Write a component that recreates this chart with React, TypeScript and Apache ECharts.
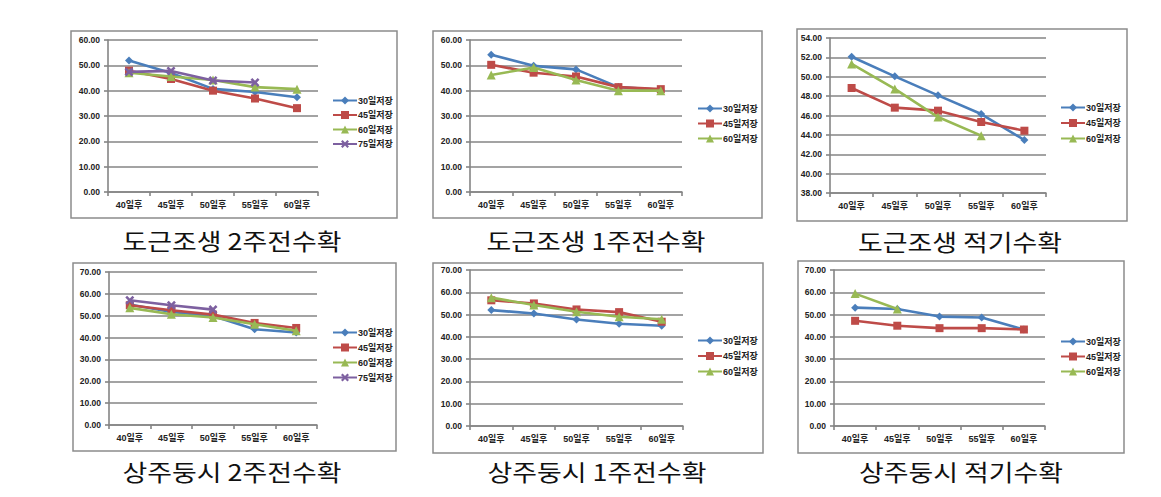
import React, { useEffect, useRef } from "react";
import * as echarts from "echarts";

const categories = ["40일후", "45일후", "50일후", "55일후", "60일후"];
const seriesNames = ["30일저장", "45일저장", "60일저장", "75일저장"];
const titles = [
  "도근조생 2주전수확",
  "도근조생 1주전수확",
  "도근조생 적기수확",
  "상주둥시 2주전수확",
  "상주둥시 1주전수확",
  "상주둥시 적기수확",
];

// Panel 1: 도근조생 2주전수확
const p1_30 = [51.9, 47.0, 40.7, 39.5, 37.4];
const p1_45 = [47.9, 44.6, 40.0, 36.9, 33.1];
const p1_60 = [47.1, 45.6, 44.2, 41.4, 40.6];
const p1_75 = [47.4, 47.8, 44.0, 43.2, null];
// Panel 2: 도근조생 1주전수확
const p2_30 = [54.2, 49.8, 48.4, 41.4, 40.3];
const p2_45 = [50.2, 47.1, 45.6, 41.4, 40.6];
const p2_60 = [46.2, 49.1, 44.2, 40.0, 40.0];
// Panel 3: 도근조생 적기수확
const p3_30 = [52.07, 50.04, 48.08, 46.15, 43.47];
const p3_45 = [48.84, 46.81, 46.5, 45.33, 44.43];
const p3_60 = [51.32, 48.74, 45.84, 43.92, null];
// Panel 4: 상주둥시 2주전수확
const p4_30 = [55.1, 51.7, 49.9, 43.8, 42.3];
const p4_45 = [54.8, 52.5, 50.5, 46.7, 44.4];
const p4_60 = [53.6, 50.7, 49.2, 46.1, 43.1];
const p4_75 = [57.1, 54.8, 52.8, null, null];
// Panel 5: 상주둥시 1주전수확
const p5_30 = [52.0, 50.5, 47.8, 45.9, 45.0];
const p5_45 = [56.4, 55.0, 52.3, 51.1, 46.8];
const p5_60 = [57.6, 54.3, 51.3, 49.0, 47.9];
// Panel 6: 상주둥시 적기수확
const p6_30 = [53.1, 52.5, 49.1, 48.7, 43.3];
const p6_45 = [47.2, 45.0, 43.9, 43.9, 43.3];
const p6_60 = [59.4, 52.5, null, null, null];

const yMin = [0, 0, 38, 0, 0, 0];
const yMax = [60, 60, 54, 70, 70, 70];
const yStep = [10, 10, 2, 10, 10, 10];

const panelData = [
  [p1_30, p1_45, p1_60, p1_75],
  [p2_30, p2_45, p2_60],
  [p3_30, p3_45, p3_60],
  [p4_30, p4_45, p4_60, p4_75],
  [p5_30, p5_45, p5_60],
  [p6_30, p6_45, p6_60],
];

// layout (pixels)
const grids = [
  { left: 108, top: 40, width: 210, height: 152 },
  { left: 470, top: 40, width: 212, height: 152 },
  { left: 830, top: 38, width: 216, height: 155 },
  { left: 109, top: 272, width: 208, height: 153 },
  { left: 470, top: 270, width: 213, height: 156 },
  { left: 834, top: 270, width: 211, height: 156 },
];
const boxes = [
  { x: 71, y: 31, w: 326, h: 187 },
  { x: 433, y: 31, w: 329, h: 187 },
  { x: 797, y: 29, w: 330, h: 192 },
  { x: 73, y: 263, w: 323, h: 188 },
  { x: 433, y: 263, w: 330, h: 190 },
  { x: 798, y: 261, w: 326, h: 192 },
];
const legendPos = [
  { left: 332, top: 96, gap: 5.5 },
  { left: 697, top: 104, gap: 6 },
  { left: 1060, top: 103, gap: 6.5 },
  { left: 332, top: 328, gap: 6 },
  { left: 697, top: 336, gap: 6.5 },
  { left: 1060, top: 337, gap: 6 },
];
const titlePos = [
  { x: 232, y: 240 },
  { x: 596, y: 240 },
  { x: 960, y: 241 },
  { x: 232, y: 471 },
  { x: 597, y: 471 },
  { x: 961, y: 471 },
];

const colors = ["#4A7EBB", "#BE4B48", "#98B954", "#7D60A0"];
const symbols = [
  "diamond",
  "rect",
  "triangle",
  "path://M2,0 L5,3 L8,0 L10,2 L7,5 L10,8 L8,10 L5,7 L2,10 L0,8 L3,5 L0,2 Z",
];
const symbolSizes = [8, 8, 9, 9];

const FONT = '"Liberation Sans", "Noto Sans CJK KR", sans-serif';
const GRID_COLOR = "#858585";

export default function App() {
  const ref = useRef<HTMLDivElement>(null);
  useEffect(() => {
    if (!ref.current) return;
    const chart = echarts.init(ref.current, undefined, { renderer: "svg" });

    const series: any[] = [];
    panelData.forEach((arrs, pi) => {
      arrs.forEach((data, si) => {
        series.push({
          type: "line",
          name: seriesNames[si],
          xAxisIndex: pi,
          yAxisIndex: pi,
          data: data,
          symbol: symbols[si],
          symbolSize: symbolSizes[si],
          showSymbol: true,
          connectNulls: false,
          lineStyle: { color: colors[si], width: 2.6 },
          itemStyle: { color: colors[si] },
          z: 3 + si,
        });
      });
    });

    const option: any = {
      animation: false,
      backgroundColor: "#ffffff",
      grid: grids.map((g) => ({ ...g, containLabel: false })),
      xAxis: grids.map((_, i) => ({
        type: "category",
        gridIndex: i,
        data: categories,
        boundaryGap: true,
        axisLine: { show: true, lineStyle: { color: GRID_COLOR, width: 1.6 } },
        axisTick: { show: true, length: 4, inside: false, alignWithLabel: false, lineStyle: { color: GRID_COLOR, width: 1.6 } },
        axisLabel: { fontSize: 9, fontWeight: "bold", color: "#222", fontFamily: FONT, margin: 8 },
        splitLine: { show: false },
      })),
      yAxis: grids.map((_, i) => ({
        type: "value",
        gridIndex: i,
        min: yMin[i],
        max: yMax[i],
        interval: yStep[i],
        axisLine: { show: true, lineStyle: { color: GRID_COLOR, width: 1.6 } },
        axisTick: { show: true, length: 4, lineStyle: { color: GRID_COLOR, width: 1.6 } },
        axisLabel: {
          fontSize: 8.5,
          fontWeight: "bold",
          color: "#222",
          fontFamily: FONT,
          margin: 8,
          formatter: (v: number) => v.toFixed(2),
        },
        splitLine: { show: true, lineStyle: { color: GRID_COLOR, width: 1.6 } },
      })),
      legend: legendPos.map((lp, i) => ({
        orient: "vertical",
        left: lp.left,
        top: lp.top,
        itemWidth: 24,
        itemHeight: 10,
        itemGap: lp.gap,
        padding: 0,
        selectedMode: false,
        data: seriesNames.slice(0, panelData[i].length),
        textStyle: { fontSize: 9, fontWeight: "bold", color: "#222", fontFamily: FONT, padding: [0, 0, 0, -4] },
      })),
      graphic: [
        ...boxes.map((b) => ({
          type: "rect",
          shape: { x: b.x, y: b.y, width: b.w, height: b.h },
          style: { fill: "none", stroke: "#8c8c8c", lineWidth: 1.5 },
          z: 0,
          silent: true,
        })),
        ...titles.map((t, i) => ({
          type: "text",
          x: titlePos[i].x,
          y: titlePos[i].y,
          scaleX: 1.17,
          style: {
            text: t,
            fontSize: 23,
            fontFamily: '"Noto Sans CJK KR", sans-serif',
            fill: "#111",
            textAlign: "center",
            textVerticalAlign: "middle",
          },
        })),
      ],
      series,
    };
    chart.setOption(option);
    return () => chart.dispose();
  }, []);

  return (
    <div
      ref={ref}
      style={{ position: "absolute", left: 0, top: 0, width: 1161, height: 497, background: "#fff" }}
    />
  );
}
